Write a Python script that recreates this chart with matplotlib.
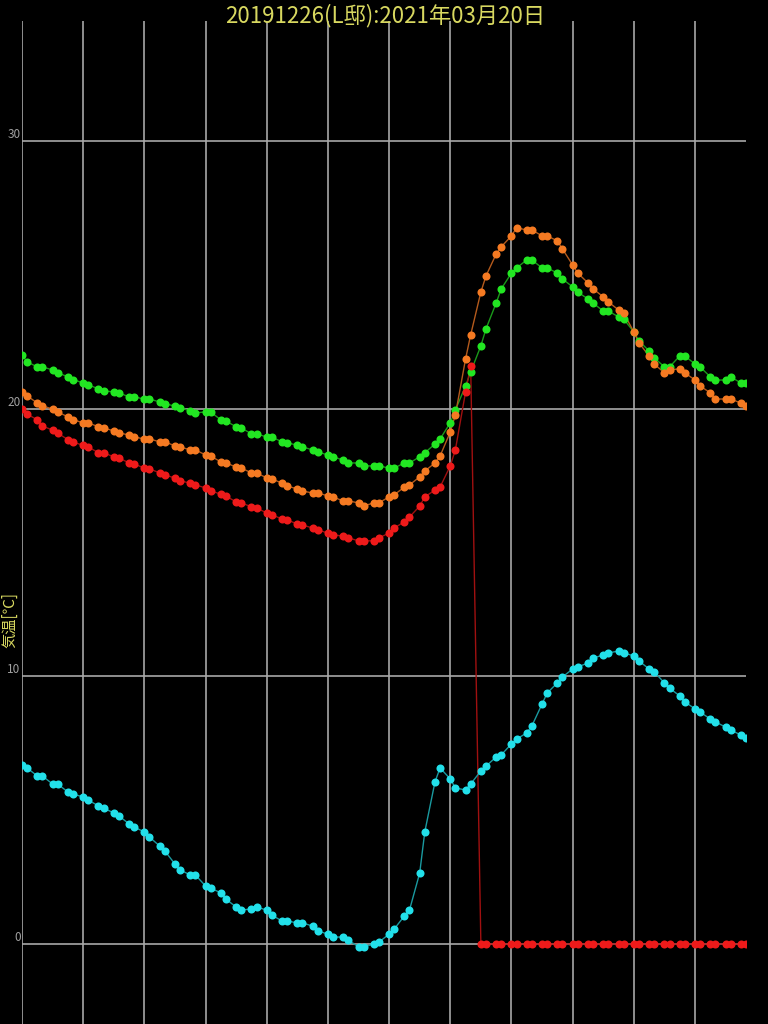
import numpy as np
import matplotlib.pyplot as plt

plt.rcParams['font.family'] = ['Noto Sans CJK JP', 'DejaVu Sans']

# 時刻 [分]
times = [0, 10, 30, 40, 60, 70, 90, 100, 120, 130, 150, 160, 180, 190, 210, 220,
         240, 250, 270, 280, 300, 310, 330, 340, 360, 370, 390, 400, 420, 430, 450, 460,
         480, 490, 510, 520, 540, 550, 570, 580, 600, 610, 630, 640, 660, 670, 690, 700,
         720, 730, 750, 760, 780, 790, 810, 820, 840, 850, 870, 880, 900, 910, 930, 940,
         960, 970, 990, 1000, 1020, 1030, 1050, 1060, 1080, 1090, 1110, 1120, 1140, 1150, 1170, 1180,
         1200, 1210, 1230, 1240, 1260, 1270, 1290, 1300, 1320, 1330, 1350, 1360, 1380, 1390, 1410, 1420]

green = [22.02, 21.76, 21.57, 21.57, 21.46, 21.35, 21.2, 21.1, 20.97, 20.90, 20.75, 20.67, 20.64, 20.60, 20.45, 20.45,
         20.37, 20.37, 20.26, 20.19, 20.11, 20.04, 19.93, 19.85, 19.89, 19.89, 19.59, 19.55, 19.33, 19.29, 19.07, 19.07,
         18.95, 18.95, 18.77, 18.73, 18.65, 18.58, 18.47, 18.39, 18.28, 18.21, 18.09, 17.98, 17.98, 17.87, 17.87, 17.87,
         17.79, 17.79, 17.98, 17.98, 18.21, 18.36, 18.69, 18.88, 19.48, 19.96, 20.86, 21.38, 22.36, 22.99, 23.96, 24.49,
         25.08, 25.27, 25.57, 25.57, 25.27, 25.27, 25.08, 24.86, 24.56, 24.37, 24.11, 23.96, 23.66, 23.66, 23.44, 23.36,
         22.88, 22.54, 22.17, 21.91, 21.57, 21.57, 21.98, 21.98, 21.68, 21.57, 21.20, 21.08, 21.08, 21.20, 20.97, 20.97]

orange = [20.64, 20.49, 20.22, 20.11, 20.0, 19.89, 19.7, 19.6, 19.48, 19.48, 19.33, 19.29, 19.18, 19.10, 19.03, 18.95,
          18.88, 18.88, 18.77, 18.77, 18.62, 18.58, 18.47, 18.47, 18.28, 18.24, 18.02, 17.98, 17.83, 17.79, 17.61, 17.61,
          17.42, 17.38, 17.23, 17.12, 17.01, 16.93, 16.86, 16.86, 16.75, 16.71, 16.56, 16.56, 16.49, 16.37, 16.49, 16.49,
          16.71, 16.79, 17.08, 17.16, 17.46, 17.68, 17.98, 18.24, 19.14, 19.78, 21.87, 22.77, 24.37, 24.97, 25.79, 26.06,
          26.47, 26.77, 26.69, 26.69, 26.47, 26.47, 26.28, 25.98, 25.38, 25.08, 24.71, 24.49, 24.19, 24.0, 23.70, 23.59,
          22.88, 22.47, 21.98, 21.68, 21.35, 21.46, 21.50, 21.35, 21.08, 20.86, 20.60, 20.37, 20.37, 20.37, 20.22, 20.11]

red = [20.0, 19.81, 19.59, 19.36, 19.21, 19.10, 18.85, 18.75, 18.65, 18.58, 18.36, 18.36, 18.21, 18.17, 17.98, 17.94,
       17.79, 17.76, 17.61, 17.53, 17.42, 17.31, 17.23, 17.16, 17.05, 16.93, 16.82, 16.75, 16.52, 16.49, 16.34, 16.30,
       16.11, 16.04, 15.89, 15.85, 15.70, 15.66, 15.55, 15.48, 15.36, 15.29, 15.25, 15.18, 15.07, 15.07, 15.07, 15.18,
       15.36, 15.55, 15.78, 15.96, 16.37, 16.71, 16.97, 17.08, 17.87, 18.47, 20.64, 21.61, 0, 0, 0, 0,
       0, 0, 0, 0, 0, 0, 0, 0, 0, 0, 0, 0, 0, 0, 0, 0,
       0, 0, 0, 0, 0, 0, 0, 0, 0, 0, 0, 0, 0, 0, 0, 0]

cyan = [6.69, 6.58, 6.28, 6.28, 5.98, 5.98, 5.68, 5.6, 5.50, 5.38, 5.16, 5.08, 4.90, 4.79, 4.49, 4.37,
        4.19, 4.0, 3.66, 3.48, 2.99, 2.77, 2.58, 2.58, 2.17, 2.09, 1.91, 1.68, 1.38, 1.27, 1.31, 1.38,
        1.27, 1.08, 0.86, 0.86, 0.79, 0.79, 0.67, 0.49, 0.37, 0.26, 0.26, 0.15, -0.11, -0.11, 0.0, 0.07,
        0.37, 0.56, 1.05, 1.27, 2.65, 4.19, 6.06, 6.58, 6.17, 5.83, 5.76, 5.98, 6.47, 6.65, 6.99, 7.07,
        7.48, 7.66, 7.89, 8.15, 8.97, 9.38, 9.76, 9.98, 10.28, 10.36, 10.5, 10.69, 10.8, 10.88, 10.95, 10.88,
        10.77, 10.58, 10.28, 10.17, 9.76, 9.57, 9.27, 9.05, 8.79, 8.67, 8.41, 8.30, 8.11, 8.0, 7.81, 7.70]

series = [
    (green, '#22e622', '#1a9a1a'),
    (orange, '#f57a22', '#b45a1c'),
    (red, '#ee1a1a', '#a01010'),
    (cyan, '#22e0ea', '#1a9aa0'),
]

fig = plt.figure(figsize=(7.68, 10.24), dpi=100, facecolor='black')
ax = fig.add_axes([22 / 768, 0, 724 / 768, 1 - 21 / 1024])
ax.set_facecolor('black')

for vals, mc, lc in series:
    ax.plot(times, vals, color=lc, lw=1, zorder=2)
    ax.plot(times, vals, 'o', color=mc, ms=5.8, mec='none', zorder=3)

ax.set_xlim(0, 1420)
ax.set_ylim(-2.99, 34.5)
ax.set_xticks(np.arange(0, 1421, 120))
ax.set_xticklabels([])
ax.set_yticks([0, 10, 20, 30])
ax.set_yticklabels(['0', '10', '20', '30'])
for lbl in ax.get_yticklabels():
    lbl.set_verticalalignment('bottom')
ax.tick_params(length=0, colors='#a0a0a0', labelsize=8.5, pad=1)
ax.grid(True, color='#a8a8a8', lw=1.2)
ax.set_axisbelow(True)
for s in ax.spines.values():
    s.set_visible(False)

fig.text(10 / 768, 1 - 620 / 1024, '気温[℃]', color='#d8d860', fontsize=11,
         rotation=90, ha='center', va='center')
fig.text(0.502, 0.985, '20191226(L邸):2021年03月20日', color='#d8d860',
         fontsize=16, ha='center', va='center')

plt.savefig('out.png', dpi=100, facecolor='black')
